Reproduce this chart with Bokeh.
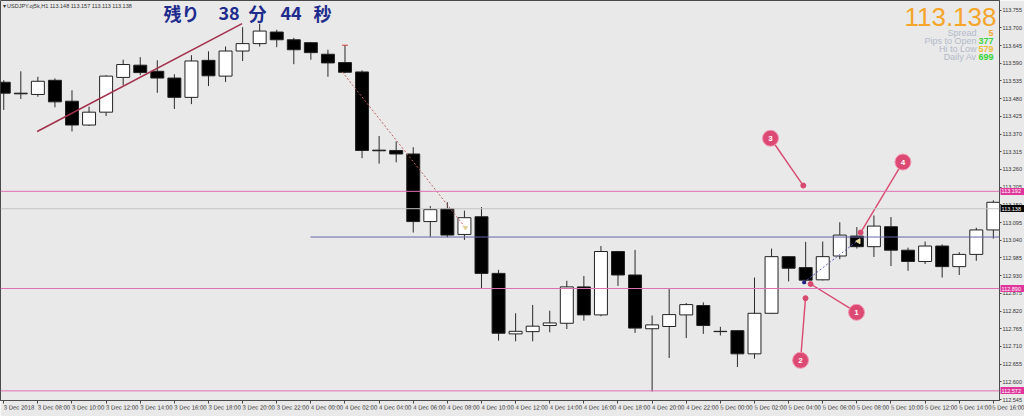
from bokeh.plotting import figure
from bokeh.models import FixedTicker, Span, Label, ColumnDataSource, NumeralTickFormatter, LinearAxis
from bokeh.embed import file_html
from bokeh.resources import INLINE
from bokeh.core.properties import value
import math

# ---------------- data ----------------
time_tick_index = [0, 2, 4, 6, 8, 10, 12, 14, 16, 18, 20, 22, 24, 26, 28,
                   30, 32, 34, 36, 38, 40, 42, 44, 46, 48, 50, 52, 54, 56, 58]
time_labels = ["3 Dec 2018", "3 Dec 08:00", "3 Dec 10:00", "3 Dec 12:00", "3 Dec 14:00",
               "3 Dec 16:00", "3 Dec 18:00", "3 Dec 20:00", "3 Dec 22:00", "4 Dec 00:00",
               "4 Dec 02:00", "4 Dec 04:00", "4 Dec 06:00", "4 Dec 08:00", "4 Dec 10:00",
               "4 Dec 12:00", "4 Dec 14:00", "4 Dec 16:00", "4 Dec 18:00", "4 Dec 20:00",
               "4 Dec 22:00", "5 Dec 00:00", "5 Dec 02:00", "5 Dec 04:00", "5 Dec 06:00",
               "5 Dec 08:00", "5 Dec 10:00", "5 Dec 12:00", "5 Dec 14:00", "5 Dec 16:00"]

opens = [113.531, 113.497, 113.493, 113.537, 113.472, 113.398, 113.438, 113.546, 113.584, 113.565,
         113.544, 113.484, 113.599, 113.550, 113.628, 113.651, 113.687, 113.663, 113.654, 113.618,
         113.592, 113.563, 113.320, 113.319, 113.308, 113.098, 113.138, 113.058, 113.113, 112.937,
         112.749, 112.756, 112.775, 112.782, 112.895, 112.808, 113.005, 112.932, 112.765, 112.772,
         112.808, 112.837, 112.757, 112.759, 112.687, 112.813, 112.989, 112.955, 112.917, 112.991,
         113.053, 113.020, 113.082, 113.009, 112.974, 113.022, 112.958, 112.996, 113.072]
highs = [113.537, 113.565, 113.548, 113.543, 113.506, 113.455, 113.553, 113.601, 113.609, 113.599,
         113.556, 113.615, 113.627, 113.642, 113.702, 113.713, 113.694, 113.669, 113.656, 113.632,
         113.646, 113.568, 113.364, 113.347, 113.329, 113.146, 113.158, 113.132, 113.143, 112.948,
         112.813, 112.839, 112.821, 112.914, 112.929, 113.022, 113.007, 113.010, 112.806, 112.888,
         112.845, 112.847, 112.771, 112.761, 112.924, 113.014, 112.990, 113.035, 113.036, 113.096,
         113.081, 113.117, 113.112, 113.017, 113.036, 113.027, 113.003, 113.079, 113.164]
lows = [113.445, 113.479, 113.486, 113.453, 113.378, 113.395, 113.426, 113.522, 113.553, 113.498,
        113.448, 113.463, 113.519, 113.532, 113.597, 113.642, 113.640, 113.587, 113.601, 113.548,
        113.559, 113.295, 113.278, 113.282, 113.064, 113.051, 113.049, 113.041, 112.890, 112.728,
        112.726, 112.726, 112.754, 112.764, 112.790, 112.804, 112.898, 112.752, 112.570, 112.674,
        112.736, 112.749, 112.744, 112.646, 112.672, 112.812, 112.912, 112.904, 112.915, 112.981,
        113.014, 112.988, 112.960, 112.945, 112.966, 112.924, 112.932, 112.976, 113.045]
closes = [113.497, 113.495, 113.534, 113.470, 113.398, 113.438, 113.550, 113.586, 113.561, 113.544,
          113.484, 113.597, 113.551, 113.628, 113.651, 113.690, 113.663, 113.632, 113.623, 113.591,
          113.562, 113.319, 113.318, 113.308, 113.098, 113.135, 113.056, 113.110, 112.937, 112.751,
          112.757, 112.773, 112.783, 112.895, 112.808, 113.005, 112.932, 112.767, 112.777, 112.809,
          112.840, 112.775, 112.756, 112.687, 112.813, 112.989, 112.953, 112.916, 112.989, 113.056,
          113.020, 113.084, 113.009, 112.974, 113.022, 112.958, 112.996, 113.072, 113.158]

price_ticks = [113.755, 113.700, 113.645, 113.590, 113.535, 113.480, 113.425, 113.370, 113.315,
               113.260, 113.205, 113.150, 113.095, 113.040, 112.985, 112.930, 112.875, 112.820,
               112.765, 112.710, 112.655, 112.600, 112.545]

pink_levels = [113.192, 112.890, 112.572]
bid_level = 113.138
blue_level = 113.050
blue_level_start = 17.98

trend_x = [1.96, 13.97]
trend_y = [113.378, 113.713]
red_path_x = [19.84, 27.06]
red_path_y = [113.563, 113.079]
blue_path_x = [46.9, 50.0]
blue_path_y = [112.909, 113.037]

callout_text = ["1", "2", "3", "4"]
callout_x = [49.98, 46.70, 44.94, 52.70]
callout_y = [112.816, 112.667, 113.357, 113.283]
callout_tx = [47.29, 46.99, 46.86, 50.22]
callout_ty = [112.904, 112.860, 113.210, 113.064]

header_text = "\u25be USDJPY.oj5k,H1  113.148 113.157 113.113 113.138"
countdown_parts = ["残り", "38", "分", "44", "秒"]
countdown_px = [163, 218, 248, 280, 313]
big_price = "113.138"
info_labels = ["Spread", "Pips to Open", "Hi to Low", "Daily Av"]
info_values = ["5", "377", "579", "699"]
info_colors = ["#F2A93B", "#3CD43C", "#F0BE3A", "#34D634"]

# ---------------- layout ----------------
BG = "#E9E9E9"
FRAME = "#4A4A4A"
FRAME_H = 402
X_LEFT, X_RIGHT = -0.19, 58.36
Y_BOTTOM, Y_TOP = 112.542, 113.785
FONT = "Liberation Sans"
PINK_BOX = "#E0369C"
SCALE_FONT = "5.5px"

p = figure(width=1024, height=416, x_range=(X_LEFT, X_RIGHT), y_range=(Y_BOTTOM, Y_TOP),
           y_axis_location="right", output_backend="svg", toolbar_location=None,
           min_border_left=0, min_border_top=0, min_border_right=25, min_border_bottom=14,
           background_fill_color=BG, border_fill_color=BG, outline_line_color=FRAME)
p.grid.visible = False

ya = p.yaxis[0]
ya.ticker = FixedTicker(ticks=price_ticks)
ya.formatter = NumeralTickFormatter(format="0.000")
ya.major_label_text_font_size = SCALE_FONT
ya.major_label_text_font = FONT
ya.major_label_text_color = "#333333"
ya.major_tick_out = 2
ya.major_tick_in = 0
ya.minor_tick_line_color = None
ya.major_label_standoff = 1
ya.axis_line_color = FRAME
ya.major_tick_line_color = FRAME

xa = p.xaxis[0]
xa.ticker = FixedTicker(ticks=time_tick_index)
xa.major_label_overrides = {t: s for t, s in zip(time_tick_index, time_labels)}
xa.major_label_orientation = -0.001   # tiny negative angle -> labels start at their tick (MT4 style)
xa.major_label_text_font_size = "6px"
xa.major_label_text_font = FONT
xa.major_label_text_color = "#333333"
xa.major_label_standoff = 4
xa.major_tick_out = 3
xa.major_tick_in = 0
xa.minor_tick_line_color = None
xa.axis_line_color = FRAME
xa.major_tick_line_color = FRAME

# price boxes on the price scale: extra axes whose thick inward ticks form the boxes
for levels, fill in ((pink_levels, PINK_BOX), ([bid_level], "#000000")):
    ax = LinearAxis(ticker=FixedTicker(ticks=levels), formatter=NumeralTickFormatter(format="0.000"),
                    major_tick_out=0, major_tick_in=24, minor_tick_out=0, minor_tick_in=0,
                    axis_line_color=None, major_tick_line_color=fill, major_tick_line_width=7,
                    major_tick_line_cap="butt", minor_tick_line_color=None,
                    major_label_standoff=-23, major_label_text_font_size=SCALE_FONT,
                    major_label_text_font=FONT, major_label_text_color="white")
    p.add_layout(ax, "right")

# ---------------- candles ----------------
idx = list(range(len(opens)))
tops = [max(o, c) for o, c in zip(opens, closes)]
bots = [min(o, c) for o, c in zip(opens, closes)]
fills = ["#FFFFFF" if c >= o else "#000000" for o, c in zip(opens, closes)]
csrc = ColumnDataSource(dict(x=idx, high=highs, low=lows, top=tops, bottom=bots, fill=fills))
p.segment(x0="x", y0="low", x1="x", y1="high", source=csrc, line_color="#2A2A2A", line_width=1)
p.vbar(x="x", width=0.76, top="top", bottom="bottom", source=csrc, fill_color="fill",
       line_color="#222222", line_width=1)

# ---------------- lines ----------------
for lvl in pink_levels:
    p.add_layout(Span(location=lvl, dimension="width", line_color="#E070B4", line_width=1))
p.add_layout(Span(location=bid_level, dimension="width", line_color="#C4C4C4", line_width=1))
p.segment(x0=[blue_level_start], y0=[blue_level], x1=[X_RIGHT], y1=[blue_level],
          line_color="#6666AA", line_width=1)

p.line(trend_x, trend_y, line_color="#A3304C", line_width=1.5)
p.line(red_path_x, red_path_y, line_color="#C06060", line_width=1, line_dash="2 2")
p.line(blue_path_x, blue_path_y, line_color="#5A5AC0", line_width=1, line_dash="2 2")
p.scatter([blue_path_x[0]], [blue_path_y[0]], marker="circle", size=3, color="#20208C")
p.scatter([blue_path_x[1] + 0.1], [blue_path_y[1]], marker="triangle", angle=math.pi / 2,
          size=5, color="#E8DCA0")
p.scatter([red_path_x[1]], [red_path_y[1]], marker="triangle", angle=math.pi,
          size=4, color="#E0D090")
p.scatter([20], [highs[20]], marker="dash", size=6, color="#D04040")

# ---------------- callouts ----------------
for cx, cy, tx, ty in zip(callout_x, callout_y, callout_tx, callout_ty):
    p.segment(x0=[cx], y0=[cy], x1=[tx], y1=[ty], line_color="#D8496F", line_width=1.4)
p.scatter(callout_tx, callout_ty, marker="circle", size=5, color="#D8496F")
p.scatter(callout_x, callout_y, marker="circle", size=16, fill_color="#DC4A73",
          line_color="#F29AB4", line_width=1)
p.text(callout_x, callout_y, text=callout_text, text_align="center", text_baseline="middle",
       text_color="white", text_font_size="8px", text_font_style="bold", text_font=value(FONT))

# ---------------- header texts ----------------
p.add_layout(Label(x=2, y=FRAME_H - 7, x_units="screen", y_units="screen", text=header_text,
                   text_font_size="5.5px", text_font=FONT, text_color="#333333",
                   text_baseline="middle", text_align="left"))
for part, px in zip(countdown_parts, countdown_px):
    p.add_layout(Label(x=px, y=FRAME_H - 14, x_units="screen", y_units="screen", text=part,
                       text_font_size="18px", text_font="Noto Sans CJK JP", text_font_style="bold",
                       text_color="#1E2C8E", text_baseline="middle", text_align="left"))
p.add_layout(Label(x=996, y=FRAME_H - 18, x_units="screen", y_units="screen", text=big_price,
                   text_font_size="26px", text_font=FONT, text_color="#F5A52A",
                   text_baseline="middle", text_align="right"))
for k, (lab, val, col) in enumerate(zip(info_labels, info_values, info_colors)):
    yy = FRAME_H - (34 + 8 * k)
    p.add_layout(Label(x=976, y=yy, x_units="screen", y_units="screen", text=lab,
                       text_font_size="9px", text_font=FONT, text_color="#B3BACA",
                       text_baseline="middle", text_align="right"))
    p.add_layout(Label(x=993, y=yy, x_units="screen", y_units="screen", text=val,
                       text_font_size="9px", text_font=FONT, text_color=col,
                       text_font_style="bold", text_baseline="middle", text_align="right"))

open("out.html", "w").write(file_html(p, INLINE))
